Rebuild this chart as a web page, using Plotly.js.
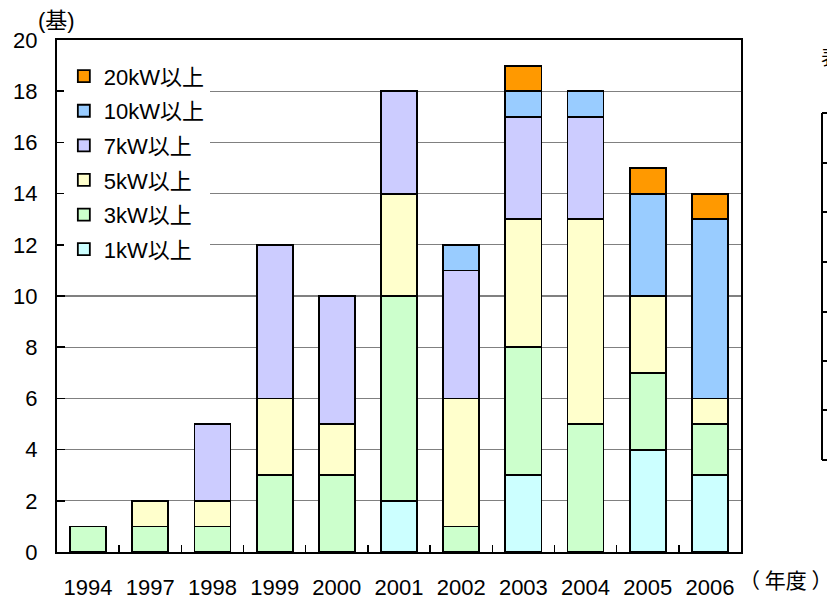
<!DOCTYPE html>
<html>
<head>
<meta charset="utf-8">
<script src="https://cdn.plot.ly/plotly-3.0.1.min.js"></script>
<style>
  html, body { margin: 0; padding: 0; background: #fff; }
  #chart { width: 827px; height: 598px; }
</style>
</head>
<body>
<div id="chart"></div>
<script>
// Fiscal years shown on the category axis
const years = ['1994', '1997', '1998', '1999', '2000', '2001', '2002', '2003', '2004', '2005', '2006'];

// Units installed per capacity class (基)
const kw1  = [0, 0, 0, 0, 0, 2, 0, 3, 0, 4, 3];
const kw3  = [1, 1, 1, 3, 3, 8, 1, 5, 5, 3, 2];
const kw5  = [0, 1, 1, 3, 2, 4, 5, 5, 8, 3, 1];
const kw7  = [0, 0, 3, 6, 5, 4, 5, 4, 4, 0, 0];
const kw10 = [0, 0, 0, 0, 0, 0, 1, 1, 1, 4, 7];
const kw20 = [0, 0, 0, 0, 0, 0, 0, 1, 0, 1, 1];

const seriesNames = ['1kW以上', '3kW以上', '5kW以上', '7kW以上', '10kW以上', '20kW以上'];
const seriesValues = [kw1, kw3, kw5, kw7, kw10, kw20];
const seriesColors = ['#CCFFFF', '#CCFFCC', '#FFFFCC', '#CCCCFF', '#99CCFF', '#FF9900'];

const FONT = 'Liberation Sans, Arial, "Noto Sans CJK JP", sans-serif';

// One stacked bar trace per class; empty segments are left out so no outline is drawn
const traces = seriesNames.map((name, i) => ({
  type: 'bar',
  name: name,
  legendgroup: name,
  legendrank: seriesNames.length - i,
  x: years,
  y: seriesValues[i].map(v => (v === 0 ? null : v)),
  marker: { color: seriesColors[i], line: { color: '#000', width: 1.8 } },
  hoverinfo: 'x+y+name'
}));

// Plot area geometry in pixels (used for the neighbouring panel's frame)
const L = 57, T = 40, W = 684, H = 512;
const px = v => (v - L) / W;
const py = v => (T + H - v) / H;

const shapes = [];
// Edge of the adjoining panel on the right
shapes.push({ type: 'line', xref: 'paper', yref: 'paper', x0: px(822), x1: px(822), y0: py(113), y1: py(460), line: { color: '#000', width: 2 } });
[113, 163, 212, 262, 312, 361, 410, 460].forEach(v => {
  shapes.push({ type: 'line', xref: 'paper', yref: 'paper', x0: px(822), x1: px(830), y0: py(v), y1: py(v), line: { color: '#000', width: 2 } });
});

const layout = {
  width: 827,
  height: 598,
  margin: { l: L, r: 827 - L - W, t: T, b: 598 - T - H },
  paper_bgcolor: '#fff',
  plot_bgcolor: '#fff',
  barmode: 'stack',
  bargap: 0.42,
  font: { family: FONT, color: '#000', size: 22 },
  showlegend: true,
  legend: {
    x: 0.01, xanchor: 'left',
    y: 0.97, yanchor: 'top',
    bgcolor: '#fff',
    borderwidth: 0,
    traceorder: 'grouped',
    tracegroupgap: 3,
    font: { family: FONT, size: 22, color: '#000' }
  },
  xaxis: {
    type: 'category',
    showline: true, linecolor: '#000', linewidth: 2, mirror: true,
    ticks: 'inside', tickson: 'boundaries', ticklen: 7, tickwidth: 1.5, tickcolor: '#000',
    ticklabelstandoff: 15,
    tickfont: { family: FONT, size: 22, color: '#000' },
    showgrid: false, zeroline: false
  },
  yaxis: {
    range: [0, 20],
    dtick: 2,
    showline: true, linecolor: '#000', linewidth: 2, mirror: true,
    ticks: 'inside', ticklen: 8, tickwidth: 1.5, tickcolor: '#000',
    ticklabelstandoff: 13,
    tickfont: { family: FONT, size: 22, color: '#000' },
    showgrid: true, gridcolor: '#808080', gridwidth: 1.2,
    zeroline: false
  },
  shapes: shapes,
  annotations: [
    { xref: 'paper', yref: 'paper', x: px(56), y: py(20), xanchor: 'center', yanchor: 'middle', text: '(基)', showarrow: false, font: { family: FONT, size: 22, color: '#000' } },
    { xref: 'paper', yref: 'paper', x: px(785), y: py(579), xanchor: 'center', yanchor: 'middle', text: '（ 年度 ）', showarrow: false, font: { family: '"Noto Sans CJK JP", sans-serif', size: 21, color: '#000' } },
    { xref: 'paper', yref: 'paper', x: px(819), y: py(56), xanchor: 'left', yanchor: 'middle', text: '表', showarrow: false, font: { family: '"Noto Sans CJK JP", sans-serif', size: 20, color: '#000' } }
  ]
};

Plotly.newPlot('chart', traces, layout, { displayModeBar: false, staticPlot: true });
</script>
</body>
</html>
